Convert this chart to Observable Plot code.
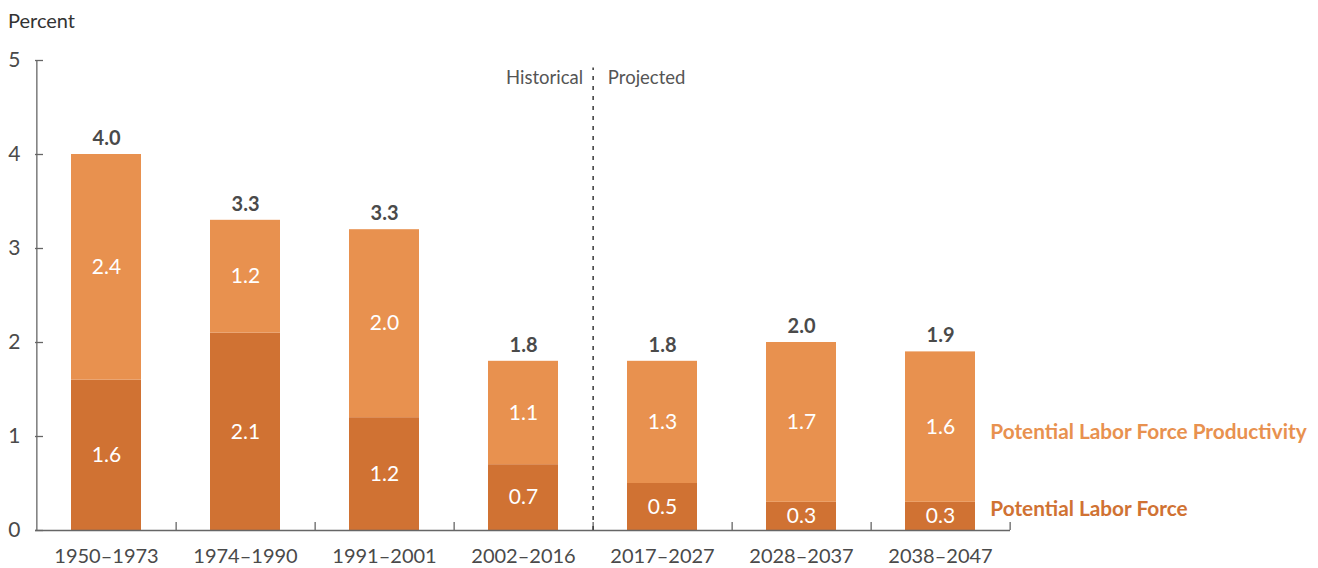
<!DOCTYPE html>
<html><head><meta charset="utf-8">
<script src="https://cdn.jsdelivr.net/npm/d3@7"></script>
<script src="https://cdn.jsdelivr.net/npm/@observablehq/plot@0.6"></script>
<style>
body{margin:0;background:#fff;font-family:Lato, "Noto Sans", sans-serif;}
#title{height:40px;padding-left:8px;font-size:20px;line-height:40px;color:#333;box-sizing:border-box;}
</style></head><body>
<div id="title">Percent</div>
<div id="chart"></div>
<script>
const periods = ["1950–1973","1974–1990","1991–2001","2002–2016","2017–2027","2028–2037","2038–2047"];
const laborForce = [1.6, 2.1, 1.2, 0.7, 0.5, 0.3, 0.3];
const productivity = [2.4, 1.2, 2.0, 1.1, 1.3, 1.7, 1.6];
const totalLabels = ["4.0","3.3","3.3","1.8","1.8","2.0","1.9"];
const yTicks = [0, 1, 2, 3, 4, 5];
const seriesNames = ["Potential Labor Force", "Potential Labor Force Productivity"];
const eraLabels = ["Historical", "Projected"];

const colors = ["#D07233", "#E8914F"];
const W = 1318, H = 528, mL = 35, mR = 308, mT = 20, mB = 38;
const step = (W - mL - mR) / periods.length; // paddingInner .5, paddingOuter .25
const bw = step * 0.5;

const rows = [];
periods.forEach((p, i) => {
  rows.push({period: p, series: seriesNames[0], value: laborForce[i]});
  rows.push({period: p, series: seriesNames[1], value: productivity[i]});
});
const totals = periods.map((p, i) => ({period: p, total: laborForce[i] + productivity[i], label: totalLabels[i]}));
const last = periods.length - 1;
const gray = "#4a4a4a", axisGray = "#666";

const chart = Plot.plot({
  width: W, height: H,
  marginLeft: mL, marginRight: mR, marginTop: mT, marginBottom: mB,
  style: {fontFamily: "Lato, 'Noto Sans', sans-serif", background: "#fff"},
  x: {domain: periods, paddingInner: 0.5, paddingOuter: 0.25, axis: null},
  y: {domain: [0, 5], axis: null},
  color: {domain: seriesNames, range: colors},
  marks: [
    Plot.barY(rows, {x: "period", y: "value", fill: "series"}),
    Plot.text(rows, Plot.stackY({x: "period", y: "value", text: d => d.value.toFixed(1), fill: "white", fontSize: 21})),
    Plot.text(totals, {x: "period", y: "total", text: "label", dy: -16, fill: gray, fontSize: 20, fontWeight: "bold"}),
    Plot.text([seriesNames[1]], {x: () => periods[last], y: () => laborForce[last] + productivity[last] / 2, text: d => d, fill: colors[1], textAnchor: "start", dx: bw / 2 + 15, dy: 5, fontSize: 20.8, fontWeight: "bold"}),
    Plot.text([seriesNames[0]], {x: () => periods[last], y: () => laborForce[last] / 2, text: d => d, fill: colors[0], textAnchor: "start", dx: bw / 2 + 15, dy: -7, fontSize: 20.8, fontWeight: "bold"}),
    // axes
    Plot.ruleY([0], {stroke: axisGray, strokeWidth: 1.3}),
    Plot.ruleX([periods[0]], {y1: 0, y2: 5, dx: -step / 2, stroke: axisGray, strokeWidth: 1.3}),
    Plot.axisY({ticks: yTicks, tickFormat: "d", tickSize: 0, tickPadding: 15, fontSize: 21, fill: gray, label: null}),
    Plot.axisY({ticks: yTicks, tickSize: -8, tickFormat: () => "", stroke: axisGray, strokeWidth: 1.3, label: null}),
    Plot.axisX({tickSize: 0, tickPadding: 18, fontSize: 20, fill: gray, label: null}),
    Plot.axisX({tickSize: -8, tickFormat: () => "", dx: step / 2, stroke: axisGray, strokeWidth: 1.3, label: null}),
    // divider
    Plot.ruleX([periods[3]], {dx: step / 2, y1: 0, y2: 4.92, stroke: "#444", strokeWidth: 1.6, strokeDasharray: "4,6"}),
    Plot.text([eraLabels[0]], {x: () => periods[3], y: 4.81, text: d => d, dx: step / 2 - 10, textAnchor: "end", fill: "#555", fontSize: 18.5}),
    Plot.text([eraLabels[1]], {x: () => periods[4], y: 4.81, text: d => d, dx: -step / 2 + 15, textAnchor: "start", fill: "#555", fontSize: 18.5})
  ]
});
document.getElementById("chart").appendChild(chart);
</script>
</body></html>
